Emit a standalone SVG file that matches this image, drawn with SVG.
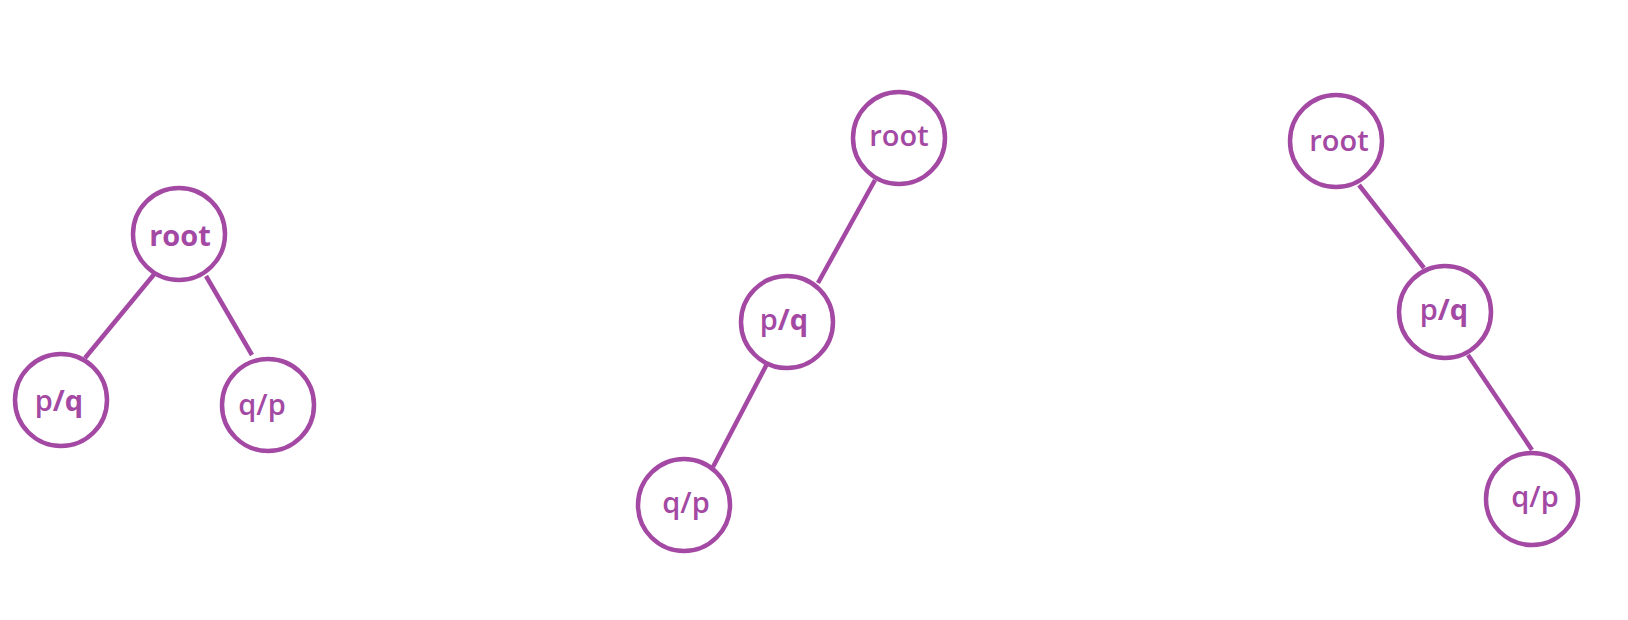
<svg xmlns="http://www.w3.org/2000/svg" width="1628" height="620" viewBox="0 0 1628 620">
<style>
.n{fill:#fff;stroke:#A349A4;stroke-width:4.5}
.e{stroke:#A349A4;stroke-width:4.5;fill:none}
.t{font-family:"Open Sans","Noto Sans",sans-serif;font-size:29px;font-weight:600;fill:#A349A4;text-anchor:middle}
.b{font-weight:bold}
</style>
<rect width="1628" height="620" fill="#fff"/>
<g id="connectors">
<line class="e" x1="156" y1="272" x2="85" y2="358"/>
<line class="e" x1="206" y1="276" x2="252" y2="355"/>
<line class="e" x1="875" y1="180" x2="818" y2="283"/>
<line class="e" x1="768" y1="362" x2="713" y2="467"/>
<line class="e" x1="1359" y1="185" x2="1424" y2="268"/>
<line class="e" x1="1468" y1="355" x2="1532" y2="450"/>
</g>
<g id="t1-root"><circle class="n" cx="179" cy="234" r="46"/><text class="t b" x="180" y="246">root</text></g>
<g id="t1-pq"><circle class="n" cx="61" cy="400" r="46"/><text class="t" x="59" y="411">p<tspan class="b">/q</tspan></text></g>
<g id="t1-qp"><circle class="n" cx="268" cy="405" r="46"/><text class="t" x="262" y="415">q/p</text></g>
<g id="t2-root"><circle class="n" cx="899" cy="138" r="46"/><text class="t" x="899" y="146">root</text></g>
<g id="t2-pq"><circle class="n" cx="787" cy="322" r="46"/><text class="t" x="784" y="330">p<tspan class="b">/q</tspan></text></g>
<g id="t2-qp"><circle class="n" cx="684" cy="505" r="46"/><text class="t" x="686" y="513">q/p</text></g>
<g id="t3-root"><circle class="n" cx="1336" cy="141" r="46"/><text class="t" x="1339" y="151">root</text></g>
<g id="t3-pq"><circle class="n" cx="1445" cy="312" r="46"/><text class="t" x="1444" y="320">p<tspan class="b">/q</tspan></text></g>
<g id="t3-qp"><circle class="n" cx="1532" cy="499" r="46"/><text class="t" x="1535" y="507">q/p</text></g>
</svg>
